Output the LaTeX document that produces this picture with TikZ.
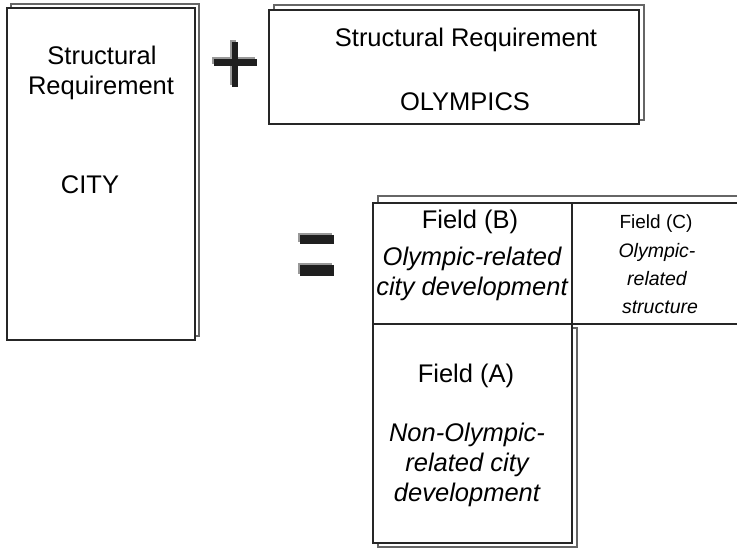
\documentclass[tikz,border=0pt]{standalone}
\usepackage{fontspec}
\setmainfont{Liberation Sans}
\begin{document}
\begin{tikzpicture}[x=1pt,y=-1pt,
  frontsheet/.style={draw=black!85, line width=1.1pt, fill=white},
  backsheet/.style={draw=black!60, line width=1.1pt, fill=white},
  big/.style={font=\fontsize{25.5}{30}\selectfont, anchor=base, inner sep=0pt},
  bigit/.style={font=\fontsize{25.5}{30}\selectfont\itshape, anchor=base, inner sep=0pt},
  small/.style={font=\fontsize{19}{22}\selectfont, anchor=base, inner sep=0pt},
  smallit/.style={font=\fontsize{19.5}{24}\selectfont\itshape, anchor=base, inner sep=0pt},
  bevel/.style={fill=black!40},
  solid bar/.style={fill=black!88}]
\useasboundingbox (0,0) rectangle (737,549);
\clip (0,0) rectangle (737,549);

% city requirement sheet
\draw[backsheet] (11,4) rectangle (199,336);
\draw[frontsheet] (7,8) rectangle (195,340);
\node[big] (cityA) at (102,64.5) {Structural};
\node[big] (cityB) at (101,94.5) {Requirement};
\node[big] (cityC) at (90,193) {CITY};

% olympic requirement sheet
\draw[backsheet] (274,5) rectangle (644,120);
\draw[frontsheet] (269,10) rectangle (639,124);
\node[big] (olyA) at (466,46) {Structural Requirement};
\node[big] (olyB) at (465,110) {OLYMPICS};

% plus sign
\fill[bevel] (230,40) rectangle (236,85);
\fill[bevel] (212,57) rectangle (255,64);
\fill[solid bar] (232,42) rectangle (238,87);
\fill[solid bar] (214,59) rectangle (257,66);

% equals sign
\fill[bevel] (298,233) rectangle (332,242);
\fill[solid bar] (300,235) rectangle (334,244);
\fill[bevel] (298,263) rectangle (332,274);
\fill[solid bar] (300,265) rectangle (334,276);

% fields: back sheets
\draw[backsheet] (378,196) rectangle (760,320);
\draw[backsheet] (378,328) rectangle (577,547);
% fields: front sheets
\draw[frontsheet] (373,203) rectangle (572,324);
\draw[frontsheet] (572,203) rectangle (760,324);
\draw[frontsheet] (373,324) rectangle (572,543);

% field B
\node[big] (fbA) at (470,228) {Field (B)};
\node[bigit] (fbB) at (472,265) {Olympic-related};
\node[bigit] (fbC) at (472,295) {city development};

% field C
\node[small] (fcA) at (656,228) {Field (C)};
\node[smallit] (fcB) at (657,257) {Olympic-};
\node[smallit] (fcC) at (657,285) {related};
\node[smallit] (fcD) at (660,313) {structure};

% field A
\node[big] (faA) at (466,382) {Field (A)};
\node[bigit] (faB) at (467,441) {Non-Olympic-};
\node[bigit] (faC) at (467,471) {related city};
\node[bigit] (faD) at (467,501) {development};
\end{tikzpicture}
\end{document}
